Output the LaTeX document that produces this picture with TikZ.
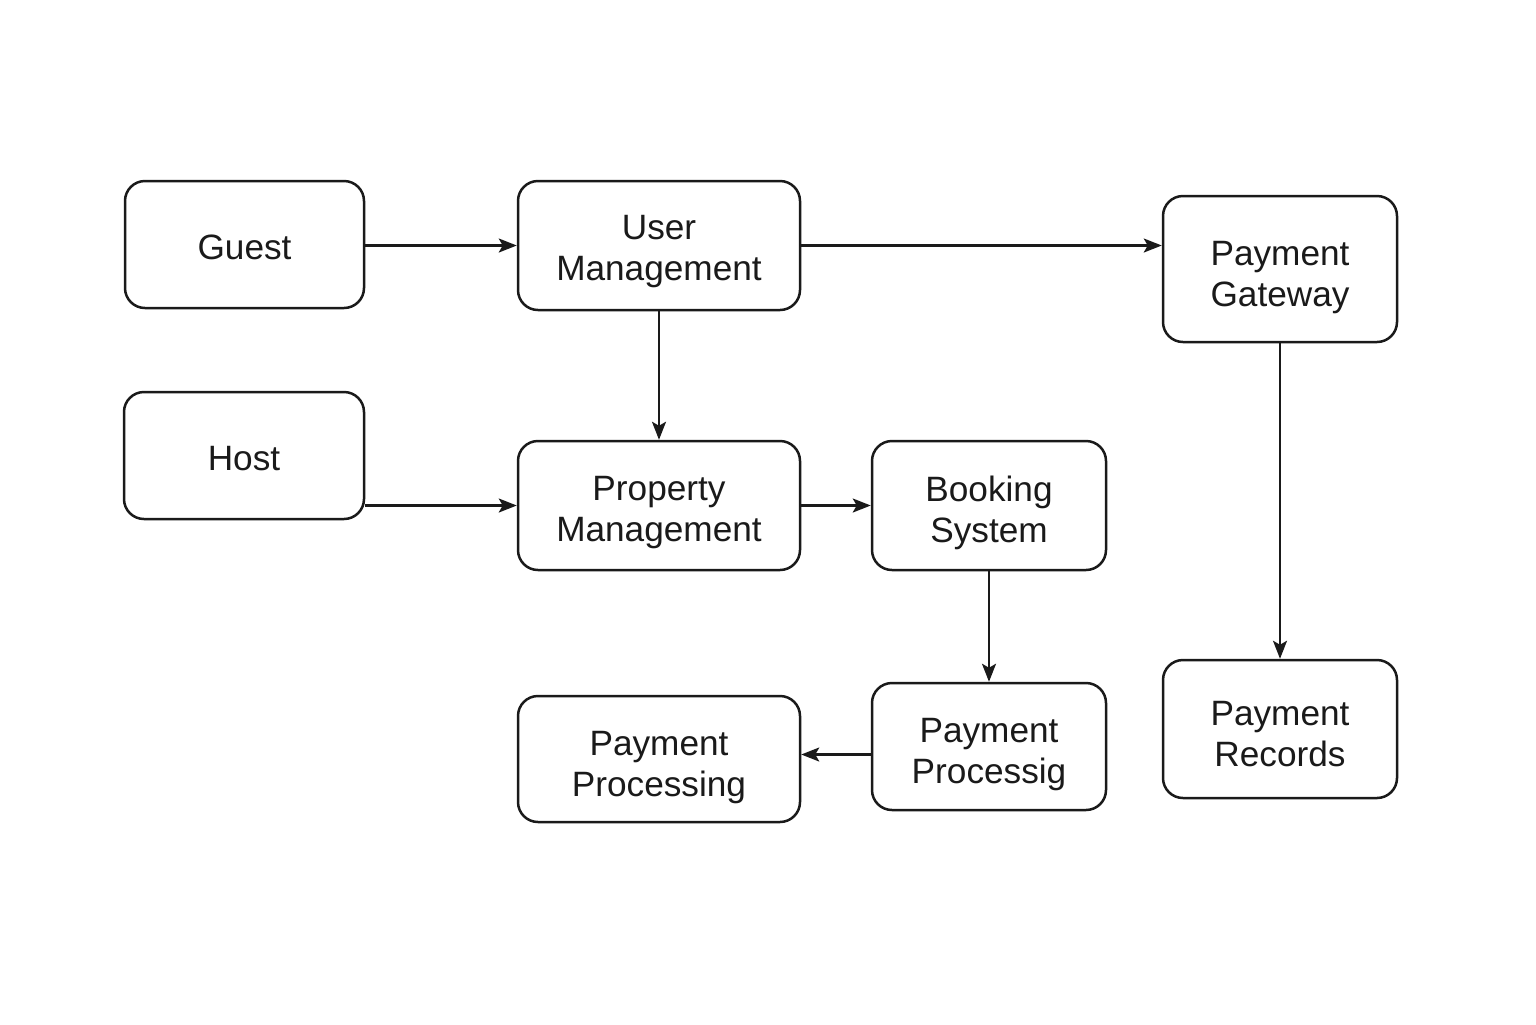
\documentclass[tikz,border=0pt]{standalone}
\usepackage{fontspec}
\setmainfont{Liberation Sans}
\usetikzlibrary{arrows.meta,calc}
\definecolor{ink}{HTML}{1A1A1A}
\newcommand\mytop[1]{\rule{0pt}{#1}}
\begin{document}
\begin{tikzpicture}[x=0.5pt,y=-0.5pt,
  box/.style={draw=ink,line width=1.25pt,rounded corners=10pt,align=center,
    inner sep=0pt,font=\fontsize{17.6}{20.5}\selectfont,text=ink},
  conn/.style={draw=ink,line width=1.15pt,-{Stealth[length=9pt,width=7pt,inset=2pt]}}]
\useasboundingbox (0,0) rectangle (1536,1024);
\fill[white] (0,0) rectangle (1536,1024);
\node[box,minimum width=119.5pt,minimum height=63.5pt] (guest) at (244.5,244.5) {\mytop{15pt}Guest};
\node[box,minimum width=141pt,minimum height=64.5pt] (um) at (659,245.5) {\mytop{18.6pt}User\\Management};
\node[box,minimum width=117pt,minimum height=73pt] (pg) at (1280,269) {\mytop{20.6pt}Payment\\Gateway};
\node[box,minimum width=120pt,minimum height=63.5pt] (host) at (244,455.5) {\mytop{15pt}Host};
\node[box,minimum width=141pt,minimum height=64.5pt] (pm) at (659,505.5) {\mytop{19pt}Property\\Management};
\node[box,minimum width=117pt,minimum height=64.5pt] (bs) at (989,505.5) {\mytop{19.8pt}Booking\\System};
\node[box,minimum width=117pt,minimum height=63.5pt] (ppg) at (989,746.5) {\mytop{20.2pt}Payment\\Processig};
\node[box,minimum width=141pt,minimum height=63pt] (pping) at (659,759) {\mytop{20.6pt}Payment\\Processing};
\node[box,minimum width=117pt,minimum height=69pt] (pr) at (1280,729) {\mytop{17.6pt}Payment\\Records};
\draw[conn] (guest.east |- um.west) -- (um.west);
\draw[conn] (um.east) -- (um.east -| pg.west);
\draw[conn] (um.south) -- (pm.north);
\draw[conn] (host.east |- pm.west) -- (pm.west);
\draw[conn] (pm.east) -- (bs.west);
\draw[conn] (bs.south) -- (ppg.north);
\coordinate (pa) at ($(ppg.west)+(0,8)$);
\draw[conn] (pa) -- (pa -| pping.east);
\draw[conn] (pg.south) -- (pr.north);
\end{tikzpicture}
\end{document}
